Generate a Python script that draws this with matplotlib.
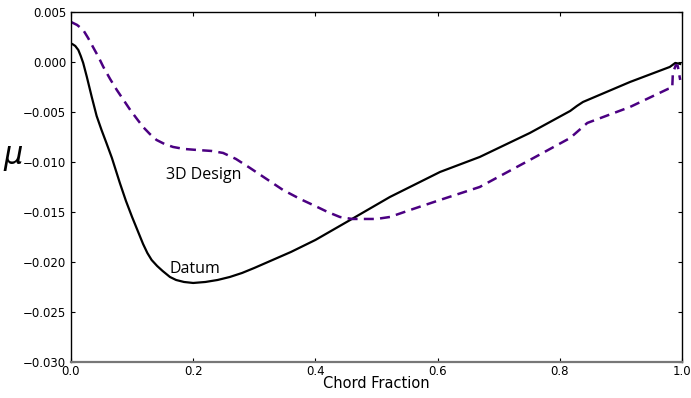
import matplotlib
matplotlib.use('Agg')
import matplotlib.pyplot as plt
from matplotlib.ticker import FuncFormatter

# Datum section
datum_x = [0.000, 0.002, 0.007, 0.012, 0.016, 0.020, 0.026, 0.034, 0.042, 0.050,
           0.058, 0.067, 0.080, 0.090, 0.100, 0.110, 0.118, 0.125, 0.132, 0.141,
           0.150, 0.162, 0.172, 0.185, 0.200, 0.220, 0.240, 0.260, 0.280, 0.300,
           0.330, 0.360, 0.400, 0.457, 0.522, 0.604, 0.669, 0.751, 0.817, 0.828,
           0.838, 0.915, 0.980, 0.989, 0.997]
datum_y = [0.0018, 0.0018, 0.0016, 0.0012, 0.0006, -0.0001, -0.0015, -0.0035, -0.0054, -0.0068,
           -0.0081, -0.0096, -0.0121, -0.0139, -0.0155, -0.0170, -0.0182, -0.0191, -0.0198, -0.0204,
           -0.0209, -0.0215, -0.0218, -0.0220, -0.0221, -0.0220, -0.0218, -0.0215, -0.0211, -0.0206,
           -0.0198, -0.0190, -0.0178, -0.0158, -0.0135, -0.0110, -0.0095, -0.0071, -0.0049, -0.0044,
           -0.0040, -0.0020, -0.0005, -0.0001, -0.0002]

# 3D design section
design_x = [0.000, 0.010, 0.020, 0.028, 0.036, 0.045, 0.053, 0.064, 0.075, 0.086,
            0.097, 0.108, 0.118, 0.129, 0.140, 0.153, 0.167, 0.185, 0.206, 0.230,
            0.249, 0.270, 0.293, 0.320, 0.347, 0.375, 0.403, 0.420, 0.440, 0.460,
            0.478, 0.500, 0.522, 0.560, 0.604, 0.669, 0.751, 0.817, 0.845, 0.915,
            0.977, 0.984, 0.985, 0.990, 0.993, 0.997]
design_y = [0.0040, 0.0037, 0.0032, 0.0024, 0.0015, 0.0005, -0.0005, -0.0017, -0.0028, -0.0038,
            -0.0048, -0.0057, -0.0065, -0.0072, -0.0078, -0.0082, -0.0085, -0.0087, -0.0088, -0.0089,
            -0.0091, -0.0097, -0.0106, -0.0117, -0.0128, -0.0137, -0.0145, -0.0150, -0.0155, -0.0157,
            -0.0157, -0.0157, -0.0155, -0.0147, -0.0138, -0.0125, -0.0098, -0.0076, -0.0061, -0.0045,
            -0.0027, -0.0026, -0.0011, -0.0003, -0.0004, -0.0018]

y_ticks = [0.005, 0.000, -0.005, -0.010, -0.015, -0.020, -0.025, -0.030]
x_ticks = [0.0, 0.2, 0.4, 0.6, 0.8, 1.0]

fig = plt.figure(figsize=(6.91, 3.98), dpi=100)
ax = fig.add_axes([0.1027, 0.0905, 0.8843, 0.8795])

ax.plot(datum_x, datum_y, color='black', lw=1.6, solid_joinstyle='round')
ax.plot(design_x, design_y, color='#4B0082', lw=1.8, dashes=(4, 2.5))

ax.text(0.217, -0.0113, '3D Design', family='Open Sans', fontsize=11.5,
        ha='center', va='center')
ax.text(0.203, -0.0207, 'Datum', family='Open Sans', fontsize=11.5,
        ha='center', va='center')

ax.set_xlim(0, 1)
ax.set_ylim(-0.030, 0.005)
ax.set_xticks(x_ticks)
ax.set_yticks(y_ticks)
ax.yaxis.set_major_formatter(FuncFormatter(lambda v, p: f'{v:.3f}'.replace('-', '\u2212')))
ax.xaxis.set_major_formatter(FuncFormatter(lambda v, p: f'{v:.1f}'))
ax.tick_params(direction='in', top=True, right=True, labelsize=8.5, length=3, width=0.8)
ax.tick_params(axis='x', pad=2)

for side in ['left', 'right', 'top']:
    ax.spines[side].set_color('black')
    ax.spines[side].set_linewidth(1.0)
ax.spines['bottom'].set_color('#777777')
ax.spines['bottom'].set_linewidth(1.6)

ax.set_xlabel('Chord Fraction', fontsize=10.5, labelpad=-1)
ax.set_ylabel(r'$\mu$', fontsize=22, rotation=0, labelpad=18)
ax.yaxis.set_label_coords(-0.095, 0.54)

fig.savefig('out.png', dpi=100)
